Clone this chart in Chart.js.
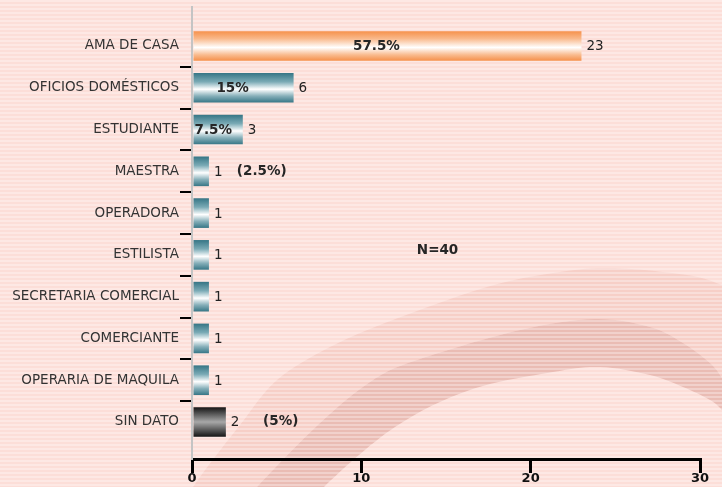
<!DOCTYPE html>
<html>
<head>
<meta charset="utf-8">
<script src="https://cdn.jsdelivr.net/npm/chart.js@4/dist/chart.umd.min.js"></script>
<style>
  html, body { margin: 0; padding: 0; background: #fde3de; overflow: hidden; }
  #wrap { width: 722px; height: 487px; }
</style>
</head>
<body>
<div id="wrap"><canvas id="c" width="722" height="487"></canvas></div>
<script>
// ---- data ----
const categories = ['AMA DE CASA', 'OFICIOS DOMÉSTICOS', 'ESTUDIANTE', 'MAESTRA', 'OPERADORA',
  'ESTILISTA', 'SECRETARIA COMERCIAL', 'COMERCIANTE', 'OPERARIA DE MAQUILA', 'SIN DATO'];
const counts = [23, 6, 3, 1, 1, 1, 1, 1, 1, 2];
const percentLabels = ['57.5%', '15%', '7.5%', '(2.5%)', '', '', '', '', '', '(5%)'];
const xTicks = [0, 10, 20, 30];
const sampleNote = 'N=40';

// ---- layout / style (not data) ----
const FONT = "'DejaVu Sans', Verdana, sans-serif";
const outsideNoteAt = { 3: 2.65, 9: 4.2 };   // x (data units) where outside % notes start
const noteAnchor = { x: 14.5, y: 4.9 };        // N=40 centre in data units

function gradStops(i) {
  if (i === 0) return [[0, '#f6914b'], [0.25, '#f9b88a'], [0.55, '#ffffff'], [0.8, '#f9bb8e'], [1, '#f5904a']];
  if (categories[i] === 'SIN DATO') return [[0, '#141414'], [0.5, '#a8a8a8'], [1, '#141414']];
  return [[0, '#357585'], [0.3, '#7aaab5'], [0.55, '#ffffff'], [0.78, '#86afb9'], [1, '#367686']];
}

const BAR_PCT = 0.71;

function catmull(ctx, pts, moveFirst) {
  if (moveFirst) ctx.moveTo(pts[0][0], pts[0][1]); else ctx.lineTo(pts[0][0], pts[0][1]);
  for (let i = 0; i < pts.length - 1; i++) {
    const p0 = pts[i - 1] || pts[i], p1 = pts[i], p2 = pts[i + 1], p3 = pts[i + 2] || pts[i + 1];
    ctx.bezierCurveTo(p1[0] + (p2[0] - p0[0]) / 6, p1[1] + (p2[1] - p0[1]) / 6,
                      p2[0] - (p3[0] - p1[0]) / 6, p2[1] - (p3[1] - p1[1]) / 6, p2[0], p2[1]);
  }
}

const bgPlugin = {
  id: 'bg',
  beforeDraw(chart) {
    const ctx = chart.ctx, W = chart.width, H = chart.height;
    ctx.save();
    ctx.fillStyle = '#fcded8';
    ctx.fillRect(0, 0, W, H);
    const lightOuter = [[175, 515], [200, 477], [240, 425], [277, 380], [330, 347], [393, 320], [487, 287], [553, 273], [610, 268], [687, 275], [722, 285], [745, 295]];
    const darkOuter = [[235, 515], [257, 487], [320, 423], [373, 380], [420, 359], [520, 330], [595, 319], [650, 327], [683, 343], [710, 363], [722, 378], [735, 400]];
    const darkInner = [[305, 515], [324, 487], [395, 427], [470, 390], [553, 372], [600, 367], [650, 375], [683, 387], [710, 400], [722, 410], [740, 430]];
    ctx.beginPath();
    catmull(ctx, lightOuter, true);
    catmull(ctx, darkOuter.slice().reverse(), false);
    ctx.closePath();
    ctx.fillStyle = '#f7cfc7';
    ctx.fill();
    ctx.beginPath();
    catmull(ctx, darkOuter, true);
    catmull(ctx, darkInner.slice().reverse(), false);
    ctx.closePath();
    ctx.fillStyle = '#eabcb4';
    ctx.fill();
    ctx.fillStyle = 'rgba(255,255,255,0.32)';
    for (let y = 0; y < H; y += 4) ctx.fillRect(0, y, W, 2);
    ctx.restore();
  }
};

const labelPlugin = {
  id: 'labels',
  afterDatasetsDraw(chart) {
    const ctx = chart.ctx, xs = chart.scales.x, ys = chart.scales.y;
    const meta = chart.getDatasetMeta(0);
    ctx.save();
    // category separator ticks
    ctx.strokeStyle = '#000';
    ctx.lineWidth = 2;
    for (let i = 0; i < categories.length - 1; i++) {
      const y = Math.round(ys.getPixelForValue(i + 0.5));
      ctx.beginPath();
      ctx.moveTo(180, y); ctx.lineTo(chart.chartArea.left - 1, y);
      ctx.stroke();
    }
    // value labels
    ctx.textBaseline = 'middle';
    ctx.font = '13.5px ' + FONT;
    ctx.fillStyle = '#222';
    ctx.textAlign = 'left';
    meta.data.forEach((el, i) => {
      ctx.fillText(String(counts[i]), el.x + 5, el.y + 1);
    });
    // percent labels
    ctx.font = 'bold 13.5px ' + FONT;
    ctx.fillStyle = '#262626';
    meta.data.forEach((el, i) => {
      const t = percentLabels[i];
      if (!t) return;
      if (outsideNoteAt[i] !== undefined) {
        ctx.textAlign = 'left';
        ctx.fillText(t, xs.getPixelForValue(outsideNoteAt[i]), el.y);
      } else {
        const w = ctx.measureText(t).width;
        let cx = (el.base + el.x) / 2 - 11;
        if (cx - w / 2 < el.base + 1) cx = el.base + 1 + w / 2;
        ctx.textAlign = 'center';
        ctx.fillText(t, cx, el.y + 1);
      }
    });
    ctx.textAlign = 'center';
    ctx.fillText(sampleNote, xs.getPixelForValue(noteAnchor.x), ys.getPixelForValue(noteAnchor.y));
    ctx.restore();
  }
};

new Chart(document.getElementById('c'), {
  type: 'bar',
  data: {
    datasets: [{
      data: categories.map((c, i) => ({ x: counts[i], y: i })),
      borderWidth: 0,
      categoryPercentage: 1,
      barPercentage: BAR_PCT,
      backgroundColor: (c) => {
        const chart = c.chart, ys = chart.scales && chart.scales.y;
        if (!ys || c.dataIndex === undefined) return '#888';
        const yc = ys.getPixelForValue(c.dataIndex);
        const half = Math.abs(ys.getPixelForValue(1) - ys.getPixelForValue(0)) * BAR_PCT / 2;
        if (!isFinite(yc) || !isFinite(half) || half <= 0) return '#888';
        const g = chart.ctx.createLinearGradient(0, yc - half, 0, yc + half);
        gradStops(c.dataIndex).forEach(s => g.addColorStop(s[0], s[1]));
        return g;
      }
    }]
  },
  options: {
    indexAxis: 'y',
    responsive: false,
    animation: false,
    layout: { padding: { top: 7, right: 22, left: 0, bottom: 0 } },
    plugins: { legend: { display: false }, tooltip: { enabled: false } },
    scales: {
      x: {
        type: 'linear', min: 0, max: 30, position: 'bottom',
        afterBuildTicks: s => { s.ticks = xTicks.map(v => ({ value: v })); },
        grid: { display: true, drawOnChartArea: false, drawTicks: true, tickLength: 14, tickColor: '#000', tickWidth: 3, color: '#000', lineWidth: 3 },
        border: { display: true, color: '#000', width: 3 },
        ticks: { font: { family: FONT, size: 13, weight: 'bold' }, color: '#111', padding: -2, maxRotation: 0, autoSkip: false },
        afterFit: s => { s.height = 28; s.paddingLeft = 0; s.paddingRight = 0; }
      },
      y: {
        type: 'linear', reverse: true, min: -0.933, max: 9.886, offset: false, grace: 0,
        afterBuildTicks: s => { s.ticks = categories.map((_, i) => ({ value: i })); },
        ticks: { callback: v => categories[v], font: { family: FONT, size: 13.5 }, color: '#333', padding: 13, autoSkip: false },
        grid: { display: false, drawTicks: false, offset: false },
        border: { display: true, color: '#c4c4c4', width: 2 },
        afterFit: s => { s.width = 192; s.paddingTop = 0; s.paddingBottom = 0; }
      }
    }
  },
  plugins: [bgPlugin, labelPlugin]
});
</script>
</body>
</html>
